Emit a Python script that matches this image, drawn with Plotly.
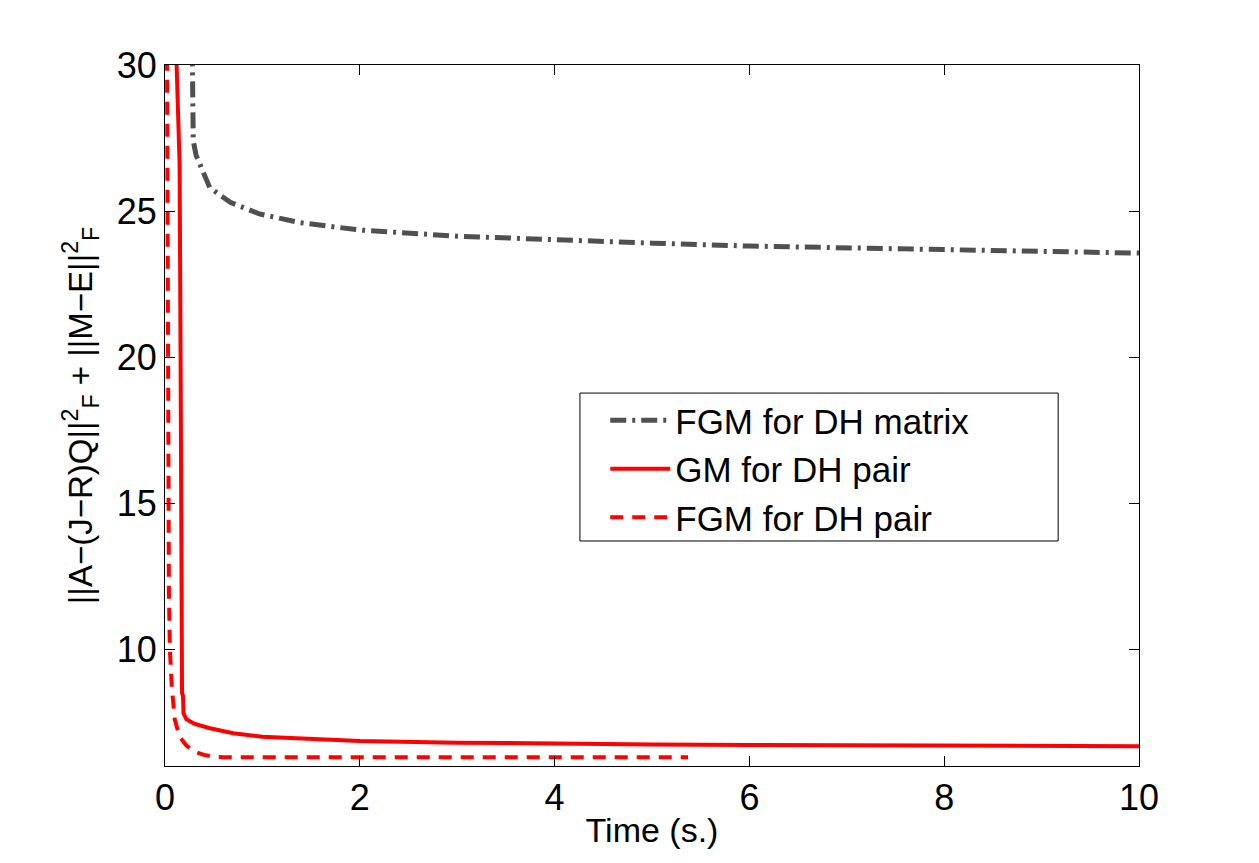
import plotly.graph_objects as go

# FGM for DH matrix (grey dash-dot)
fgm_mat_x = [0.28, 0.28, 0.29, 0.32, 0.36, 0.46, 0.67, 0.97, 1.39, 1.9, 2, 3, 4, 5, 6, 7, 8, 9, 10]
fgm_mat_y = [30.5, 28.5, 27.4, 26.9, 26.6, 25.8, 25.3, 24.9, 24.6, 24.4, 24.35, 24.14, 24.0, 23.9, 23.8, 23.73, 23.66, 23.6, 23.56]

# GM for DH pair (red solid)
gm_pair_x = [0.11, 0.13, 0.15, 0.16, 0.17, 0.175, 0.185, 0.19, 0.22, 0.3, 0.45, 0.7, 1.0, 1.5, 2, 3, 4, 5, 6, 7, 8, 9, 10]
gm_pair_y = [31, 29, 26.6, 20, 12, 8.5, 8.4, 7.8, 7.6, 7.45, 7.3, 7.12, 7.0, 6.92, 6.86, 6.8, 6.76, 6.74, 6.72, 6.71, 6.70, 6.69, 6.68]

# FGM for DH pair (red dashed)
fgm_pair_x = [0.02, 0.03, 0.04, 0.05, 0.07, 0.1, 0.15, 0.22, 0.3, 0.4, 0.5, 0.6, 1, 2, 3, 4, 5, 5.37]
fgm_pair_y = [31, 20, 12, 10, 8.7, 7.6, 7.0, 6.7, 6.5, 6.38, 6.32, 6.30, 6.30, 6.30, 6.30, 6.30, 6.30, 6.30]

x_ticks = [0, 2, 4, 6, 8, 10]
y_ticks = [10, 15, 20, 25, 30]

FONT = "Liberation Sans, Arial, Helvetica, sans-serif"

fig = go.Figure()
fig.add_trace(go.Scatter(x=fgm_mat_x, y=fgm_mat_y, mode="lines", name="FGM for DH matrix",
                         line=dict(color="#505050", width=5, dash="16px,6px,3px,6px")))
fig.add_trace(go.Scatter(x=gm_pair_x, y=gm_pair_y, mode="lines", name="GM for DH pair",
                         line=dict(color="#ff0000", width=4)))
fig.add_trace(go.Scatter(x=fgm_pair_x, y=fgm_pair_y, mode="lines", name="FGM for DH pair",
                         line=dict(color="#ff0000", width=4, dash="13px,9px")))

axis_common = dict(showgrid=False, zeroline=False, showline=True, linecolor="black", linewidth=1,
                   mirror="ticks", ticks="inside", ticklen=10, tickcolor="black",
                   tickfont=dict(family=FONT, size=36, color="black"))

# legend frame (larger than plotly's auto box, as in the reference)
fig.add_shape(type="rect", xref="paper", yref="paper",
              x0=0.426, x1=0.917, y0=0.321, y1=0.532,
              line=dict(color="black", width=1), fillcolor="white", layer="above")

fig.update_layout(
    width=1259, height=863,
    margin=dict(l=165, r=120, t=65, b=97),
    paper_bgcolor="white", plot_bgcolor="white",
    font=dict(family=FONT, color="black"),
    xaxis=dict(range=[0, 10], tickvals=x_ticks, ticktext=[str(v) for v in x_ticks],
               title=dict(text="Time (s.)", font=dict(family=FONT, size=34), standoff=0),
               **axis_common),
    yaxis=dict(range=[6, 30], tickvals=y_ticks, ticktext=[str(v) for v in y_ticks],
               title=dict(text="||A\u2212(J\u2212R)Q||<sup>2</sup><sub>F</sub> + ||M\u2212E||<sup>2</sup><sub>F</sub>",
                          font=dict(family=FONT, size=33), standoff=14),
               **axis_common),
    legend=dict(x=0.452, y=0.535, xanchor="left", yanchor="top",
                bgcolor="rgba(0,0,0,0)", borderwidth=0,
                font=dict(family=FONT, size=35), tracegroupgap=0, itemwidth=60),
    showlegend=True,
)

fig.write_html("out.html")
